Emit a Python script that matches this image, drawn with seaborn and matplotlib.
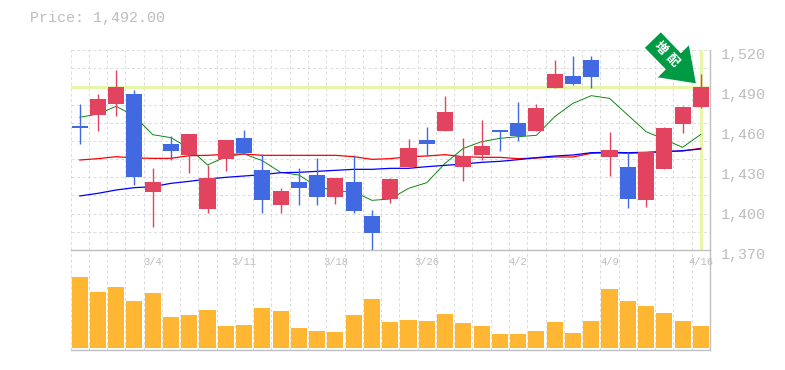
import numpy as np
import pandas as pd
import seaborn as sns
import matplotlib
matplotlib.use('Agg')
import matplotlib.pyplot as plt
from matplotlib.patches import Polygon
from matplotlib.ticker import FixedLocator, NullFormatter
from matplotlib.transforms import IdentityTransform, ScaledTranslation

current_price = 1492.0
highs = [1479.5, 1487, 1505, 1490, 1431.5, 1455.5, 1457, 1433.75, 1452.5, 1460, 1442, 1416.5,
         1431.5, 1439, 1424, 1441.25, 1400, 1424, 1453.25, 1462.25, 1485.5, 1454, 1467.5, 1460,
         1481, 1479.5, 1512.5, 1515.5, 1515.5, 1458.5, 1443.5, 1443.5, 1462.25, 1478, 1502]
lows = [1449.5, 1459.25, 1470.5, 1418.75, 1387.25, 1437.5, 1427.75, 1397.75, 1429.25, 1442, 1397.75, 1397.75,
        1403.75, 1403.75, 1404.5, 1397.75, 1369.25, 1405.25, 1432.25, 1440.5, 1459.25, 1421.75, 1437.5, 1444.25,
        1451.75, 1459.25, 1491.5, 1493.75, 1491.5, 1425.5, 1401.5, 1402.25, 1430.75, 1457.75, 1476.5]
opens = [1463, 1471.25, 1479.5, 1487, 1413.5, 1449.5, 1441.25, 1400.75, 1438.25, 1454, 1430, 1403.75,
         1421, 1426.25, 1409.75, 1421, 1395.5, 1408.25, 1432.25, 1452.5, 1459.25, 1432.25, 1441.25, 1460,
         1465.25, 1459.25, 1491.5, 1500.5, 1512.5, 1439.75, 1432.25, 1407.5, 1430.75, 1464.5, 1477.25]
closes = [1461.5, 1483.25, 1492.25, 1424.75, 1421, 1444.25, 1457, 1424, 1452.5, 1442.75, 1407.5, 1414.25,
          1416.5, 1409.75, 1424, 1399.25, 1382.75, 1423.25, 1446.5, 1449.5, 1473.5, 1440.5, 1448, 1458.5,
          1455.5, 1476.5, 1502, 1494.5, 1499.75, 1445, 1408.25, 1443.5, 1461.5, 1477.25, 1492.25]
ma_short = [1469.5, 1472, 1477.75, 1470.5, 1456.5, 1454.25, 1446.25, 1433.75, 1440, 1442, 1437, 1428.25,
            1426.25, 1417.5, 1414.25, 1413.75, 1407.25, 1408.25, 1416.25, 1420.5, 1435, 1446.25, 1451.25, 1453.75,
            1455, 1456, 1470, 1480, 1485.75, 1483.75, 1471.25, 1458.75, 1453, 1447, 1456.75]
ma_mid = [1437.5, 1438.5, 1440, 1439, 1438.75, 1438.75, 1440.75, 1441, 1441.75, 1442, 1441, 1441,
          1441, 1441, 1441, 1440, 1438, 1438.5, 1440, 1440.5, 1441.5, 1440, 1439.5, 1439.5,
          1438.5, 1439, 1439.75, 1439.75, 1442.5, 1443, 1442.5, 1443, 1443.75, 1444.25, 1446.25]
ma_long = [1410.5, 1412.5, 1415, 1416.75, 1417.5, 1420, 1421.5, 1423.25, 1424.5, 1425.5, 1426.5, 1428,
           1428.25, 1429, 1429.75, 1430.5, 1430.5, 1431.25, 1431.25, 1432.5, 1433.5, 1434.5, 1435.75, 1436.5,
           1437.75, 1439.25, 1440.5, 1441.25, 1443, 1443.25, 1443, 1443.25, 1443.75, 1444.5, 1445.75]
volumes = [213, 168, 183, 141, 165, 93, 99, 114, 66, 69, 120, 111, 60, 51, 48, 99, 147, 78,
           84, 81, 102, 75, 66, 42, 42, 51, 78, 45, 81, 177, 141, 126, 105, 81, 66]
date_ticks = [4, 9, 14, 19, 24, 29, 34]
date_labels = ['3/4', '3/11', '3/18', '3/26', '4/2', '4/9', '4/16']
price_ticks = [1520, 1490, 1460, 1430, 1400, 1370]

UP = '#E2445F'
DOWN = '#4169E1'
GRID = '#DDDDDD'
EDGE = '#BFBFBF'
TEXT = '#BDBDBD'
MARK = '#E6F5A8'
MONO = 'Liberation Mono'
DASH = (0, (3, 2.5))

sns.set_theme(style='white')
plt.rcParams['font.family'] = [MONO, 'Noto Sans CJK JP', 'DejaVu Sans']

df = pd.DataFrame({'day': np.arange(len(closes)), 'open': opens, 'close': closes,
                   'high': highs, 'low': lows, 'short': ma_short, 'mid': ma_mid,
                   'long': ma_long, 'volume': volumes})
df['up'] = df['close'] >= df['open']

W, H = 785, 370
fig = plt.figure(figsize=(W / 100, H / 100), dpi=100)
left, right = 70.5, 710.0
ax = fig.add_axes([left / W, 1 - 250 / H, (right - left) / W, 200 / H])
ax_vol = fig.add_axes([left / W, 1 - 350 / H, (right - left) / W, 100 / H], sharex=ax)
ax.patch.set_alpha(0)
ax_vol.patch.set_alpha(0)
ax.set_zorder(3)

xlim = (-0.5, len(closes) - 0.5)
for a in (ax, ax_vol):
    a.set_xlim(xlim)
    a.xaxis.set_minor_locator(FixedLocator(np.arange(xlim[0], xlim[1] + 1)))
    a.grid(which='minor', axis='both', color=GRID, lw=0.72, ls=DASH)
    a.set_axisbelow(True)
    a.tick_params(which='both', length=0)
    for side in ('top', 'left'):
        a.spines[side].set_visible(False)
    for side in ('bottom', 'right'):
        a.spines[side].set_color(EDGE)
        a.spines[side].set_linewidth(1.0)

# price panel
ax.set_ylim(1370, 1520)
ax.yaxis.remove_overlapping_locs = False
ax.yaxis.set_minor_locator(FixedLocator(np.linspace(1370, 1520, 12)))
ax.yaxis.set_minor_formatter(NullFormatter())
ax.yaxis.tick_right()
ax.set_yticks(price_ticks)
ax.set_yticklabels([f'{p:,}' for p in price_ticks], fontsize=10.8, color=TEXT, family=MONO)
ax.tick_params(axis='y', which='major', pad=8)
shift = ScaledTranslation(0, -2.2 / 72, fig.dpi_scale_trans)
for lab in ax.get_yticklabels():
    lab.set_transform(lab.get_transform() + shift)
ax.set_xticks(date_ticks)
ax.set_xticklabels(date_labels, fontsize=7.6, color=TEXT, family=MONO)
ax.tick_params(axis='x', which='major', pad=5)

ax.axhline(current_price, color=MARK, lw=2.2, zorder=1.5)
ax.axvline(df['day'].iloc[-1], ymin=0.005, ymax=0.995, color=MARK, lw=2.2, zorder=1.5)

# thin antialiased lines, close to the jagged 1px ones in the original
for name, color, lw in (('short', 'green', 0.65), ('mid', 'red', 0.9), ('long', 'blue', 0.9)):
    sns.lineplot(data=df, x='day', y=name, color=color, lw=lw, ax=ax, zorder=2, errorbar=None)

for up, color in ((True, UP), (False, DOWN)):
    part = df[df['up'] == up]
    ax.vlines(part['day'], part['low'], part['high'], color=color, lw=1.0, zorder=3)
    body_low = part[['open', 'close']].min(axis=1)
    body_high = part[['open', 'close']].max(axis=1)
    ax.bar(part['day'], body_high - body_low, bottom=body_low, width=0.88, color=color,
           lw=0, zorder=4)
ax.set_xlabel('')
ax.set_ylabel('')
ax.set_xlim(xlim)
ax.set_ylim(1370, 1520)

# volume panel
sns.barplot(data=df, x='day', y='volume', native_scale=True, color='#FFB733', width=0.88,
            saturation=1, lw=0, ax=ax_vol, zorder=2)
ax_vol.set_xlim(xlim)
ax_vol.set_ylim(-6, 294)
ax_vol.yaxis.set_minor_locator(FixedLocator([]))
ax_vol.set_xlabel('')
ax_vol.set_ylabel('')
ax_vol.set_yticks([])
ax_vol.tick_params(axis='x', which='both', labelbottom=False)
ax_vol.grid(which='minor', axis='x', color=GRID, lw=0.72, ls=DASH)

fig.text(30 / W, 1 - 18 / H, f'Price: {current_price:,.2f}', fontsize=10.8, color=TEXT,
         family=MONO, va='center', ha='left')

# event arrow, pixel offsets from the last candle's close
fig.canvas.draw()
tip = ax.transData.transform((df['day'].iloc[-1], current_price))
arrow = np.array([(-40, 55), (-56, 39.5), (-35, 18), (-43, 10), (-5, 4), (-12, 42), (-20, 34)])
fig.add_artist(Polygon(tip + arrow, closed=True, transform=IdentityTransform(), color='#009944',
                       lw=0, zorder=5))
for ch, dx, dy in (('増', -40.5, 39.5), ('配', -28.5, 27)):
    px = tip + (dx, dy)
    fig.text(px[0] / W, px[1] / H, ch, color='white', fontsize=9, fontweight='bold',
             family='Noto Sans CJK JP', rotation=-45, ha='center', va='center', zorder=6)

fig.savefig('out.png', dpi=100, facecolor='white')
